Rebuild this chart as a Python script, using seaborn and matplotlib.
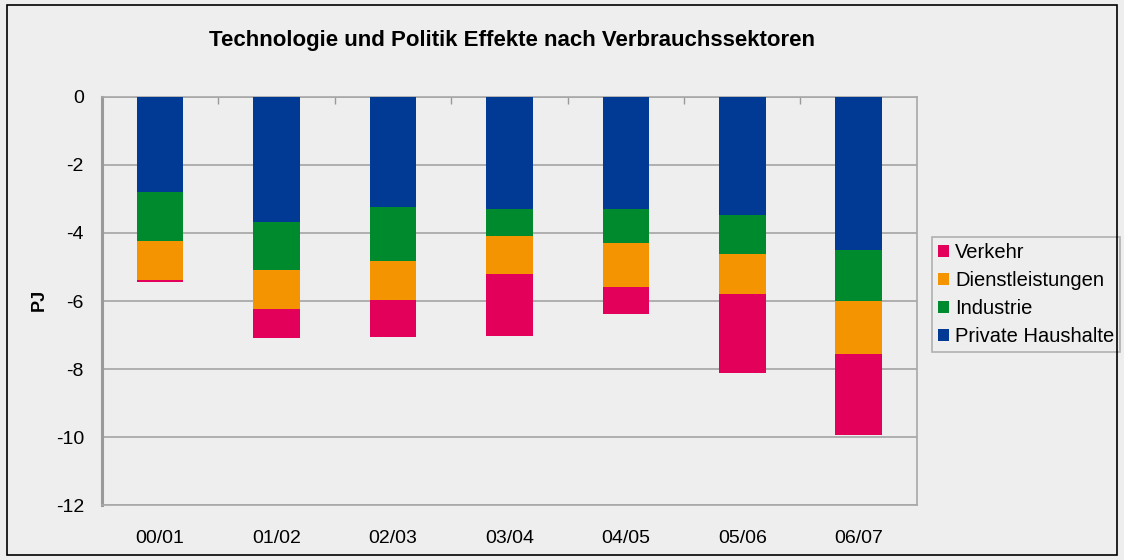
import numpy as np
import pandas as pd
import matplotlib
matplotlib.use("Agg")
import matplotlib.pyplot as plt
import seaborn as sns
from matplotlib.patches import Rectangle

# values (PJ)
years = ["00/01", "01/02", "02/03", "03/04", "04/05", "05/06", "06/07"]
private_haushalte = [-2.79, -3.68, -3.24, -3.29, -3.29, -3.47, -4.50]
industrie = [-1.45, -1.41, -1.58, -0.80, -1.00, -1.15, -1.50]
dienstleistungen = [-1.13, -1.15, -1.15, -1.12, -1.30, -1.17, -1.56]
verkehr = [-0.07, -0.85, -1.09, -1.82, -0.79, -2.33, -2.38]

colors = {
    "Verkehr": "#E2005A",
    "Dienstleistungen": "#F39400",
    "Industrie": "#008A2E",
    "Private Haushalte": "#003A94",
}

df = pd.DataFrame({
    "Jahr": years,
    "Private Haushalte": private_haushalte,
    "Industrie": industrie,
    "Dienstleistungen": dienstleistungen,
    "Verkehr": verkehr,
})

# cumulative sums for stacking (drawn back to front)
df["c_ph"] = df["Private Haushalte"]
df["c_ind"] = df["c_ph"] + df["Industrie"]
df["c_dl"] = df["c_ind"] + df["Dienstleistungen"]
df["c_vk"] = df["c_dl"] + df["Verkehr"]

sns.set_style("white")
plt.rcParams["font.family"] = ["Liberation Sans", "DejaVu Sans"]
plt.rcParams["axes.unicode_minus"] = False
plt.rcParams["text.color"] = "black"
plt.rcParams["xtick.labelcolor"] = "black"
plt.rcParams["ytick.labelcolor"] = "black"

bg = "#EEEEEE"
fig = plt.figure(figsize=(11.24, 5.6), dpi=100, facecolor=bg)
ax = fig.add_axes([0.0907, 0.0982, 0.725, 0.7286])
ax.set_facecolor(bg)

layers = [("c_vk", "Verkehr"), ("c_dl", "Dienstleistungen"),
          ("c_ind", "Industrie"), ("c_ph", "Private Haushalte")]
for col, name in layers:
    sns.barplot(data=df, x="Jahr", y=col, order=years, color=colors[name],
                saturation=1, width=0.4, label=name, ax=ax, zorder=3,
                linewidth=0, edgecolor="none")

ax.set_ylim(-12, 0)
ax.set_xlim(-0.5, 6.5)
ax.set_yticks(np.arange(-12, 1, 2))
ax.set_yticklabels([str(v) for v in range(-12, 1, 2)])
ax.set_xlabel("")
ax.set_ylabel("")
ax.grid(axis="y", color="#AAAAAA", linewidth=1.3, zorder=0)
ax.set_axisbelow(True)

for s in ["top", "right", "bottom"]:
    ax.spines[s].set_color("#A8A8A8")
    ax.spines[s].set_linewidth(1.2)
ax.spines["left"].set_color("#9A9A9A")
ax.spines["left"].set_linewidth(2.2)

ax.tick_params(axis="y", length=5, width=1, color="#9A9A9A", labelsize=14, pad=8,
               labelcolor="black")
ax.tick_params(axis="x", which="major", length=0, labelsize=14, pad=18,
               labelcolor="black")
ax.set_xticks(np.arange(0.5, 6, 1), minor=True)
ax.tick_params(axis="x", which="minor", top=True, bottom=False, direction="in",
               length=5, width=1, color="#9A9A9A")

fig.text(0.4555, 0.928, "Technologie und Politik Effekte nach Verbrauchssektoren",
         ha="center", va="center", fontsize=16, fontweight="bold", color="black")
fig.text(0.035, 0.465, "PJ", rotation=90, ha="center", va="center",
         fontsize=13, fontweight="bold", color="black")

leg = ax.legend(loc="center left", bbox_to_anchor=(0.829, 0.474),
                bbox_transform=fig.transFigure, frameon=True, fontsize=14.5,
                handlelength=0.55, handleheight=0.55, handletextpad=0.3,
                labelspacing=0.45, borderpad=0.3, borderaxespad=0, fancybox=False)
leg.get_frame().set_edgecolor("#A0A0A0")
leg.get_frame().set_facecolor(bg)
leg.get_frame().set_linewidth(1.2)
for t in leg.get_texts():
    t.set_color("black")

fig.patches.append(Rectangle((0.006, 0.009), 0.988, 0.982, transform=fig.transFigure,
                             fill=False, edgecolor="black", linewidth=1.2))

fig.savefig("out.png", dpi=100, facecolor=bg)
